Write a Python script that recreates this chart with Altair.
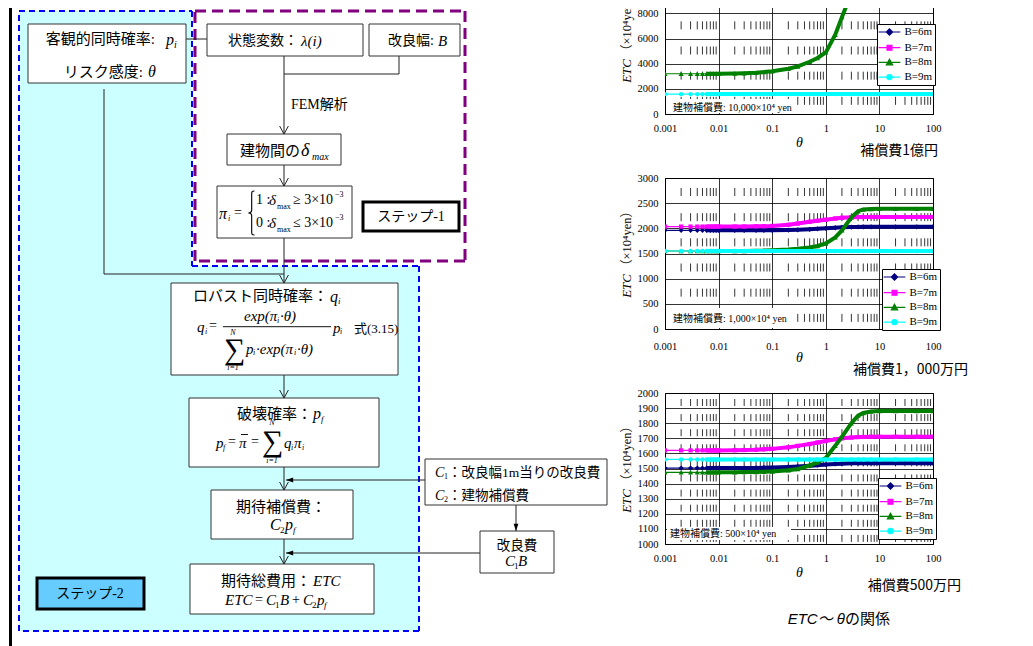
import altair as alt
import pandas as pd

SERIF = "Liberation Serif, Noto Sans CJK JP"
GOTHIC = "Noto Sans CJK JP"
SANS = "Liberation Sans, Noto Sans CJK JP"

# ---------------- chart data ----------------
THETA = [0.001, 0.002, 0.003, 0.004, 0.005, 0.006, 0.007, 0.008, 0.009, 0.01,
         0.02, 0.03, 0.05, 0.07, 0.1, 0.2, 0.3, 0.5, 0.7, 1,
         1.5, 2, 3, 4, 5, 7, 10, 20, 50, 100]
X_TICKS = [0.001, 0.01, 0.1, 1, 10, 100]
MINOR_MULT = [2, 3, 4, 5, 6, 7, 8, 9]
SERIES = ["B=6m", "B=7m", "B=8m", "B=9m"]
COLORS = ["#000080", "#FF00FF", "#008000", "#00FFFF"]

# 補償費1億円
ETC_A_6 = [10180, 10180, 10180, 10180, 10180, 10180, 10180, 10180, 10180, 10180,
           10185, 10190, 10200, 10210, 10230, 10280, 10330, 10420, 10490, 10560,
           10650, 10700, 10750, 10770, 10780, 10790, 10790, 10790, 10790, 10790]
ETC_A_7 = [9410, 9410, 9410, 9410, 9410, 9410, 9410, 9410, 9410, 9410,
           9420, 9440, 9480, 9530, 9600, 9850, 10100, 10450, 10700, 10900,
           11100, 11200, 11270, 11290, 11300, 11300, 11300, 11300, 11300, 11300]
ETC_A_8 = [3200, 3200, 3200, 3200, 3200, 3200, 3200, 3200, 3200, 3200,
           3220, 3240, 3280, 3330, 3400, 3600, 3780, 4150, 4450, 4900,
           6300, 7700, 9600, 10600, 11000, 11200, 11250, 11250, 11250, 11250]
ETC_A_9 = [1580, 1580, 1580, 1580, 1580, 1580, 1580, 1580, 1580, 1580,
           1580, 1580, 1580, 1580, 1580, 1580, 1580, 1580, 1580, 1580,
           1580, 1580, 1580, 1580, 1580, 1580, 1580, 1580, 1580, 1580]

# 補償費1,000万円
ETC_B_6 = [1960, 1960, 1960, 1960, 1960, 1960, 1960, 1960, 1960, 1960,
           1960, 1960, 1960, 1961, 1962, 1965, 1970, 1980, 1990, 2000,
           2012, 2020, 2026, 2028, 2030, 2030, 2030, 2030, 2030, 2030]
ETC_B_7 = [2035, 2035, 2035, 2035, 2035, 2035, 2035, 2035, 2035, 2035,
           2036, 2037, 2040, 2043, 2047, 2070, 2095, 2130, 2150, 2170,
           2195, 2210, 2220, 2224, 2225, 2225, 2225, 2225, 2225, 2225]
ETC_B_8 = [1550, 1550, 1550, 1550, 1550, 1550, 1550, 1550, 1550, 1550,
           1550, 1551, 1555, 1558, 1565, 1580, 1595, 1620, 1650, 1700,
           1820, 1960, 2220, 2340, 2375, 2385, 2388, 2388, 2388, 2388]
ETC_B_9 = [1550, 1550, 1550, 1550, 1550, 1550, 1550, 1550, 1550, 1550,
           1550, 1550, 1550, 1550, 1550, 1550, 1550, 1550, 1550, 1550,
           1550, 1550, 1550, 1550, 1550, 1550, 1550, 1550, 1550, 1550]

# 補償費500万円
ETC_C_6 = [1503, 1503, 1503, 1503, 1503, 1503, 1503, 1503, 1503, 1503,
           1503, 1503, 1504, 1505, 1506, 1510, 1513, 1518, 1522, 1526,
           1530, 1532, 1534, 1535, 1535, 1535, 1535, 1535, 1535, 1535]
ETC_C_7 = [1620, 1620, 1620, 1620, 1620, 1620, 1620, 1620, 1620, 1620,
           1621, 1622, 1624, 1627, 1630, 1640, 1650, 1662, 1672, 1682,
           1693, 1700, 1705, 1708, 1709, 1710, 1710, 1710, 1710, 1710]
ETC_C_8 = [1475, 1475, 1475, 1475, 1475, 1475, 1475, 1475, 1475, 1475,
           1475, 1476, 1477, 1478, 1480, 1488, 1497, 1520, 1540, 1570,
           1650, 1710, 1800, 1850, 1868, 1877, 1880, 1880, 1880, 1880]
ETC_C_9 = [1560, 1560, 1560, 1560, 1560, 1560, 1560, 1560, 1560, 1560,
           1560, 1560, 1560, 1560, 1560, 1560, 1560, 1560, 1560, 1560,
           1560, 1560, 1560, 1560, 1560, 1560, 1560, 1560, 1560, 1560]

Y_TICKS_A = [0, 2000, 4000, 6000, 8000, 10000]
Y_TICKS_B = [0, 500, 1000, 1500, 2000, 2500, 3000]
Y_TICKS_C = [1000, 1100, 1200, 1300, 1400, 1500, 1600, 1700, 1800, 1900, 2000]

NOTE_A = "建物補償費: 10,000×10⁴ yen"
NOTE_B = "建物補償費: 1,000×10⁴ yen"
NOTE_C = "建物補償費: 500×10⁴ yen"
SUB_A = "補償費1億円"
SUB_B = "補償費1，000万円"
SUB_C = "補償費500万円"
CAPTION_1 = "ETC～ θ"
CAPTION_2 = "の関係"
Y_TITLE_1 = "ETC"
Y_TITLE_2 = "（×10⁴yen）"

# ---------------- styles ----------------
MARKERS = ["diamond", "square", "triangle-up", "circle"]
MARKER_SIZE = [28, 18, 26, 20]
LEGEND_PATHS = [
    "M-3.1,0H3.1M0,-0.9L0.9,0L0,0.9L-0.9,0Z",
    "M-3.1,0H3.1M-0.7,-0.7H0.7V0.7H-0.7Z",
    "M-3.1,0H3.1M0,-0.9L0.9,0.7H-0.9Z",
    "M-3.1,0H3.1M0.75,0A0.75,0.75 0 1 1 -0.75,0A0.75,0.75 0 1 1 0.75,0Z",
]
PW, PH = 268, 151


def panel(vals, ydom, yvals, leg_xy, note, note_box, note_xy, sub, sub_xy,
          dash, dash_off, xlab_pad=9, xtitle_pad=2, extra=None):
    rows = []
    for name, vs in zip(SERIES, vals):
        for t, v in zip(THETA, vs):
            rows.append({"theta": t, "ETC": v, "B": name})
    df = pd.DataFrame(rows)
    xax = alt.Axis(values=X_TICKS, format="~g", title="θ", grid=True,
                   gridColor="black", gridWidth=0.8, gridOpacity=1,
                   domain=False, ticks=False, tickSize=0, labelFlush=False,
                   labelOverlap=False, labelFont=SERIF, labelFontSize=10.5,
                   labelColor="black", labelPadding=xlab_pad, titleFont=SERIF,
                   titleFontStyle="italic", titleFontWeight="normal",
                   titleFontSize=14, titleColor="black", titlePadding=xtitle_pad)
    yax = alt.Axis(values=yvals, format="d", title=None, grid=True,
                   gridColor="black", gridWidth=0.8, gridOpacity=1,
                   domain=False, ticks=False, tickSize=0, labelFlush=False,
                   labelOverlap=False, labelFont=SERIF, labelFontSize=10.5,
                   labelColor="black", labelPadding=7)
    X = alt.X("theta:Q", scale=alt.Scale(type="log", domain=[0.001, 100], nice=False), axis=xax)
    Y = alt.Y("ETC:Q", scale=alt.Scale(domain=ydom, nice=False, zero=False), axis=yax)

    minor_df = pd.DataFrame({"theta": [m * d for d in X_TICKS[:-1] for m in MINOR_MULT]})
    layers = [alt.Chart(minor_df).mark_rule(color="black", strokeWidth=0.8,
                                             strokeDash=dash, strokeDashOffset=dash_off)
              .encode(x=X, y=alt.value(0), y2=alt.value(PH))]
    for name, col, shp, sz in zip(SERIES, COLORS, MARKERS, MARKER_SIZE):
        base = alt.Chart(df).transform_filter(alt.datum.B == name)
        layers.append(base.mark_line(color=col, strokeWidth=1.2, clip=True).encode(x=X, y=Y))
        layers.append(base.transform_filter(alt.datum.theta >= 0.006)
                      .mark_line(color=col, strokeWidth=4, clip=True).encode(x=X, y=Y))
        layers.append(base.mark_point(filled=True, shape=shp, size=sz, color=col,
                                      opacity=1, clip=True).encode(x=X, y=Y))
    one = pd.DataFrame({"k": [0]})
    layers.append(alt.Chart(one).mark_rect(fill="white").encode(
        x=alt.value(note_box[0]), x2=alt.value(note_box[2]),
        y=alt.value(note_box[1]), y2=alt.value(note_box[3])))
    layers.append(alt.Chart(one).mark_text(font=SERIF, fontSize=10, align="left",
                                           baseline="middle", color="black").encode(
        x=alt.value(note_xy[0]), y=alt.value(note_xy[1]), text=alt.value(note)))
    layers.append(alt.Chart(one).mark_text(font=SERIF, fontSize=13, fontStyle="italic",
                                           angle=270, align="right", baseline="middle",
                                           color="black").encode(
        x=alt.value(-38), y=alt.value(96), text=alt.value(Y_TITLE_1)))
    layers.append(alt.Chart(one).mark_text(font=SERIF, fontSize=12.5, angle=270,
                                           align="left", baseline="middle",
                                           color="black").encode(
        x=alt.value(-38), y=alt.value(94), text=alt.value(Y_TITLE_2)))
    layers.append(alt.Chart(one).mark_text(font=GOTHIC, fontSize=14, align="right",
                                           baseline="middle", color="black").encode(
        x=alt.value(sub_xy[0]), y=alt.value(sub_xy[1]), text=alt.value(sub)))
    if extra:
        layers.extend(extra)
    leg = alt.Legend(orient="none", legendX=leg_xy[0], legendY=leg_xy[1], title=None,
                     fillColor="white", strokeColor="black", padding=2.5,
                     symbolSize=49, symbolStrokeWidth=1.2, symbolOffset=4.5,
                     labelOffset=9.5, labelFont=SERIF, labelFontSize=11,
                     labelColor="black", rowPadding=2.7)
    layers.append(alt.Chart(df).transform_filter("false").mark_point(filled=True, opacity=1)
                  .encode(x=X, y=Y,
                          fill=alt.Fill("B:N", scale=alt.Scale(domain=SERIES, range=COLORS), legend=leg),
                          stroke=alt.Stroke("B:N", scale=alt.Scale(domain=SERIES, range=COLORS), legend=leg),
                          shape=alt.Shape("B:N", scale=alt.Scale(domain=SERIES, range=LEGEND_PATHS), legend=leg)))
    return alt.layer(*layers).properties(
        width=PW, height=PH, view=alt.ViewBackground(stroke="black", strokeWidth=1))


one_row = pd.DataFrame({"k": [0]})
caption = [
    alt.Chart(one_row).mark_text(font=SANS, fontSize=15, fontStyle="italic", align="right",
                                 baseline="middle", color="black").encode(
        x=alt.value(180), y=alt.value(226), text=alt.value(CAPTION_1)),
    alt.Chart(one_row).mark_text(font=GOTHIC, fontSize=15, align="left",
                                 baseline="middle", color="black").encode(
        x=alt.value(180), y=alt.value(226), text=alt.value(CAPTION_2)),
]

chart_a = panel([ETC_A_6, ETC_A_7, ETC_A_8, ETC_A_9], [0, 12000], Y_TICKS_A, (212, 61),
                NOTE_A, (1, 136, 131, 150), (8, 145), SUB_A, (273, 188),
                [8, 17.17], 17.17)
chart_b = panel([ETC_B_6, ETC_B_7, ETC_B_8, ETC_B_9], [0, 3000], Y_TICKS_B, (217, 91),
                NOTE_B, (1, 130, 129, 150), (8, 141), SUB_B, (303, 192),
                [8, 17.17], 15.17, xlab_pad=12.5, xtitle_pad=-1.5)
chart_c = panel([ETC_C_6, ETC_C_7, ETC_C_8, ETC_C_9], [1000, 2000], Y_TICKS_C, (213, 85),
                NOTE_C, (2, 134, 126, 147), (5, 141), SUB_C, (296, 193),
                [7, 8.1], 9.1, extra=caption)

# ---------------- flow diagram layout (diagram geometry, image pixels) ----------------
FLOW_W, FLOW_TOP, FLOW_BOTTOM = 620, -38, 646
FLOW_FILLS = [
    (18, 10, 191, 266, "#CCFFFF"),
    (18, 265, 418, 630, "#CCFFFF"),
    (8, -38, 11, 646, "#000000"),
]
BLUE_DASH = [(18, 10, 191, 10), (191, 10, 191, 265), (191, 265, 418, 265),
             (418, 265, 418, 630), (418, 630, 18, 630), (18, 630, 18, 10)]
PURPLE_DASH = [(194, 10, 464, 10), (464, 10, 464, 260), (464, 260, 194, 260),
               (194, 260, 194, 10)]
FLOW_LINES = [
    (185, 38, 206, 38),
    (283, 55, 283, 73), (398, 55, 398, 73), (283, 73, 398, 73),
    (283, 73, 283, 133), (283, 164, 283, 185), (283, 237, 283, 282),
    (103, 88, 103, 273), (103, 273, 283, 273),
    (283, 374, 283, 397), (283, 466, 283, 489), (424, 479, 285, 479),
    (283, 538, 283, 563), (479, 552, 285, 552), (515, 504, 515, 530),
]
FORMULA_LINES = [(222, 325.7, 330, 325.7), (240, 433.5, 247, 433.5)]
FLOW_BOXES = [
    (27, 23, 185, 82, "white", "#333333", 1),
    (206, 23, 362, 55, "white", "#333333", 1),
    (368, 23, 459, 55, "white", "#333333", 1),
    (226, 133, 340, 164, "white", "#333333", 1),
    (216, 185, 351, 237, "white", "#333333", 1),
    (362, 201, 458, 230, "white", "#000000", 3),
    (170, 282, 397, 374, "white", "#333333", 1),
    (188, 397, 378, 466, "white", "#333333", 1),
    (210, 489, 352, 538, "white", "#333333", 1),
    (189, 563, 373, 613, "white", "#333333", 1),
    (36, 577, 143, 608, "#66CCFF", "#000000", 3),
    (424, 458, 606, 504, "white", "#333333", 1),
    (479, 530, 553, 572, "white", "#333333", 1),
]
OPEN_TIPS = [(283, 133), (283, 185), (283, 282), (283, 397), (283, 489), (283, 563)]
LEFT_TIPS = [(285, 479), (285, 552)]
DOWN_TIPS = [(515, 530)]
BRACES = [(250, 212)]
FLOW_TEXT = [
    ("客観的同時確率:", 154, 38, 15, 0, "right"), ("p", 165, 39, 16, 1, "left"),
    ("i", 173, 44, 10, 1, "left"),
    ("リスク感度:", 142, 71, 15, 0, "right"), ("θ", 147, 71, 16, 1, "left"),
    ("状態変数：", 297, 40, 14, 0, "right"), ("λ(i)", 300, 40, 15, 1, "left"),
    ("改良幅:", 433, 40, 14, 0, "right"), ("B", 437, 40, 15, 1, "left"),
    ("FEM解析", 290, 104, 14, 0, "left"),
    ("建物間の", 299, 150, 15, 0, "right"), ("δ", 300, 150, 18, 1, "left"),
    ("max", 311, 156, 10, 1, "left"),
    ("π", 218, 213, 16, 1, "left"), ("i", 227, 218, 8, 1, "left"),
    ("=", 233, 212, 14, 0, "left"),
    ("1 :", 255, 199, 14, 0, "left"), ("δ", 268, 199, 15, 1, "left"),
    ("max", 276, 206, 8, 0, "left"), ("≥ 3×10", 292, 199, 14, 0, "left"),
    ("−3", 334, 194, 8, 0, "left"),
    ("0 :", 255, 222, 14, 0, "left"), ("δ", 268, 222, 15, 1, "left"),
    ("max", 276, 229, 8, 0, "left"), ("≤ 3×10", 292, 222, 14, 0, "left"),
    ("−3", 334, 217, 8, 0, "left"),
    ("ステップ-1", 410, 216, 14, 0, "center"),
    ("ロバスト同時確率：", 327, 295, 15, 0, "right"), ("q", 329, 296, 16, 1, "left"),
    ("i", 337, 300, 9, 1, "left"),
    ("q", 196, 326, 15, 1, "left"), ("i", 204, 331, 8, 1, "left"),
    ("=", 208, 325, 14, 0, "left"),
    ("exp(π", 243, 315, 15, 1, "left"), ("i", 276, 320, 8, 1, "left"),
    ("·θ)", 279, 315, 15, 1, "left"),
    ("p", 332, 327, 15, 1, "left"), ("i", 339, 331, 8, 1, "left"),
    ("式(3.15)", 353, 328, 13, 0, "left"),
    ("∑", 223, 349, 30, 0, "left"), ("N", 232, 332, 8, 1, "center"),
    ("i=1", 232, 367, 8, 1, "center"),
    ("p", 245, 348, 15, 1, "left"), ("i", 252, 352, 8, 1, "left"),
    ("·exp(π", 255, 348, 15, 1, "left"), ("i", 293, 352, 8, 1, "left"),
    ("·θ)", 296, 348, 15, 1, "left"),
    ("破壊確率：", 311, 413, 15, 0, "right"), ("p", 312, 413, 16, 1, "left"),
    ("f", 320, 418, 9, 1, "left"),
    ("p", 215, 442, 15, 1, "left"), ("f", 222, 447, 8, 1, "left"),
    ("=", 227, 441, 14, 0, "left"), ("π", 238, 442, 15, 1, "left"),
    ("=", 250, 441, 14, 0, "left"), ("∑", 261, 441, 30, 0, "left"),
    ("N", 271, 422, 8, 1, "center"), ("i=1", 271, 460, 8, 1, "center"),
    ("q", 283, 442, 15, 1, "left"), ("i", 290, 447, 8, 1, "left"),
    ("π", 293, 442, 15, 1, "left"), ("i", 301, 447, 8, 1, "left"),
    ("期待補償費：", 280, 506, 15, 0, "center"),
    ("C", 269, 524, 16, 1, "left"), ("2", 279, 529, 9, 0, "left"),
    ("p", 284, 524, 16, 1, "left"), ("f", 292, 529, 9, 1, "left"),
    ("期待総費用：", 310, 580, 15, 0, "right"), ("ETC", 312, 580, 15, 1, "left"),
    ("ETC", 224, 599, 15, 1, "left"), ("=", 254, 599, 14, 0, "left"),
    ("C", 265, 599, 15, 1, "left"), ("1", 274, 604, 9, 0, "left"),
    ("B", 279, 599, 15, 1, "left"), ("+", 291, 599, 14, 0, "left"),
    ("C", 302, 599, 15, 1, "left"), ("2", 311, 604, 9, 0, "left"),
    ("p", 316, 599, 15, 1, "left"), ("f", 323, 604, 9, 1, "left"),
    ("ステップ-2", 89, 593, 14, 0, "center"),
    ("C", 434, 472, 14, 1, "left"), ("1", 443, 476, 8, 0, "left"),
    ("：改良幅1m当りの改良費", 447, 472, 13.5, 0, "left"),
    ("C", 434, 495, 14, 1, "left"), ("2", 443, 499, 8, 0, "left"),
    ("：建物補償費", 447, 495, 13.5, 0, "left"),
    ("改良費", 516, 545, 13.5, 0, "center"),
    ("C", 504, 560, 15, 1, "left"), ("1", 513, 565, 9, 0, "left"),
    ("B", 517, 560, 15, 1, "left"),
]
OPEN_DOWN = "M-0.55,-1L0,0L0.55,-1"
FILLED_LEFT = "M0,0L0.9,-0.3L0.9,0.3Z"
FILLED_DOWN = "M0,0L-0.3,-0.9L0.3,-0.9Z"
BRACE_PATH = ("M0.16,-1C0.03,-1 0.03,-0.95 0.03,-0.85L0.03,-0.12C0.03,-0.04 -0.02,0 -0.12,0"
              "C-0.02,0 0.03,0.04 0.03,0.12L0.03,0.85C0.03,0.95 0.03,1 0.16,1")


def flow_chart():
    fx = alt.X("x:Q", scale=alt.Scale(domain=[0, FLOW_W], nice=False, zero=False), axis=None)
    fy = alt.Y("y:Q", scale=alt.Scale(domain=[FLOW_TOP, FLOW_BOTTOM], nice=False,
                                      zero=False, reverse=True), axis=None)
    seg_cols = ["x", "y", "x2", "y2"]
    layers = []
    layers.append(alt.Chart(pd.DataFrame(FLOW_FILLS, columns=seg_cols + ["fill"]))
                  .mark_rect().encode(x=fx, y=fy, x2="x2:Q", y2="y2:Q",
                                      fill=alt.Fill("fill:N", scale=None)))
    layers.append(alt.Chart(pd.DataFrame(PURPLE_DASH, columns=seg_cols))
                  .mark_rule(color="#800080", strokeWidth=3, strokeDash=[11, 6])
                  .encode(x=fx, y=fy, x2="x2:Q", y2="y2:Q"))
    layers.append(alt.Chart(pd.DataFrame(BLUE_DASH, columns=seg_cols))
                  .mark_rule(color="#0000FF", strokeWidth=2, strokeDash=[6, 4])
                  .encode(x=fx, y=fy, x2="x2:Q", y2="y2:Q"))
    layers.append(alt.Chart(pd.DataFrame(FLOW_LINES, columns=seg_cols))
                  .mark_rule(color="#222222", strokeWidth=1)
                  .encode(x=fx, y=fy, x2="x2:Q", y2="y2:Q"))
    layers.append(alt.Chart(pd.DataFrame(FLOW_BOXES, columns=seg_cols + ["fill", "stroke", "sw"]))
                  .mark_rect().encode(x=fx, y=fy, x2="x2:Q", y2="y2:Q",
                                      fill=alt.Fill("fill:N", scale=None),
                                      stroke=alt.Stroke("stroke:N", scale=None),
                                      strokeWidth=alt.StrokeWidth("sw:Q", scale=None)))
    layers.append(alt.Chart(pd.DataFrame(FORMULA_LINES, columns=seg_cols))
                  .mark_rule(color="#111111", strokeWidth=1)
                  .encode(x=fx, y=fy, x2="x2:Q", y2="y2:Q"))
    tdf = pd.DataFrame(FLOW_TEXT, columns=["t", "x", "y", "s", "it", "al"])
    for it in (0, 1):
        for al in ("left", "right", "center"):
            sub = tdf[(tdf.it == it) & (tdf.al == al)]
            if len(sub) == 0:
                continue
            layers.append(alt.Chart(sub).mark_text(
                font=SERIF, fontStyle="italic" if it else "normal", align=al,
                baseline="middle", color="black")
                .encode(x=fx, y=fy, text="t:N", size=alt.Size("s:Q", scale=None)))
    layers.append(alt.Chart(pd.DataFrame(BRACES, columns=["x", "y"]))
                  .mark_point(shape=BRACE_PATH, size=1936, filled=False, color="#111111",
                              strokeWidth=1.2, opacity=1).encode(x=fx, y=fy))
    layers.append(alt.Chart(pd.DataFrame(OPEN_TIPS, columns=["x", "y"]))
                  .mark_point(shape=OPEN_DOWN, size=256, filled=False, color="#222222",
                              strokeWidth=1, opacity=1).encode(x=fx, y=fy))
    layers.append(alt.Chart(pd.DataFrame(LEFT_TIPS, columns=["x", "y"]))
                  .mark_point(shape=FILLED_LEFT, size=256, filled=True, color="#000000",
                              opacity=1).encode(x=fx, y=fy))
    layers.append(alt.Chart(pd.DataFrame(DOWN_TIPS, columns=["x", "y"]))
                  .mark_point(shape=FILLED_DOWN, size=256, filled=True, color="#000000",
                              opacity=1).encode(x=fx, y=fy))
    return alt.layer(*layers).properties(width=FLOW_W, height=FLOW_BOTTOM - FLOW_TOP)


IND = dict(fill="independent", stroke="independent", shape="independent")
right = (alt.vconcat(chart_a, chart_b, chart_c, spacing=64, bounds="flush")
         .resolve_scale(**IND).resolve_legend(**IND))
chart = (alt.hconcat(flow_chart(), right, spacing=44, bounds="flush")
         .resolve_scale(size="independent", **IND).resolve_legend(**IND)
         .properties(padding={"left": -8, "top": -46, "right": 0, "bottom": 0})
         .configure_view(stroke="transparent"))

chart.save("out.html", embed_options={"renderer": "svg", "actions": False})
